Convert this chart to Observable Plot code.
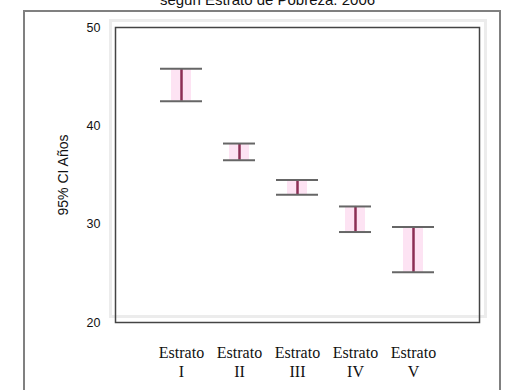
<!DOCTYPE html>
<html>
<head>
<meta charset="utf-8">
<script src="https://cdn.jsdelivr.net/npm/d3@7"></script>
<script src="https://cdn.jsdelivr.net/npm/@observablehq/plot@0.6"></script>
<style>
  html, body { margin: 0; padding: 0; background: #fff; }
  #wrap { position: relative; width: 509px; height: 390px; overflow: hidden; }
  #outer { position: absolute; left: 23px; top: 10px; width: 478px; height: 400px; border: 2px solid #808080; box-sizing: border-box; }
  #title { position: absolute; left: 0; width: 535px; top: -9px; text-align: center; font: 15px "Liberation Sans", Arial, sans-serif; color: #111; }
  #chart { position: absolute; left: 0; top: 0; }
</style>
</head>
<body>
<div id="wrap">
  <div id="outer"></div>
  <div id="title">según Estrato de Pobreza. 2006</div>
  <div id="chart"></div>
</div>
<script>
const categories = ["I", "II", "III", "IV", "V"];
const upper = [45.8, 38.2, 34.5, 31.8, 29.7];
const lower = [42.5, 36.5, 33.0, 29.2, 25.1];
const yTicks = [20, 30, 40, 50];

const data = categories.map((c, i) => ({ cat: c, hi: upper[i], lo: lower[i] }));
const wide = data.filter((d, i) => i % 2 === 0);
const narrow = data.filter((d, i) => i % 2 === 1);

const chart = Plot.plot({
  width: 509,
  height: 390,
  marginLeft: 115,
  marginRight: 30,
  marginTop: 27,
  marginBottom: 68,
  style: { background: "transparent", overflow: "visible" },
  x: { type: "band", domain: categories, paddingInner: 0.28, paddingOuter: 0.75 },
  y: { domain: [20, 50] },
  marks: [
    Plot.frame({ stroke: "#ececec", strokeWidth: 3, insetLeft: -5, insetRight: -6, insetTop: -7, insetBottom: 6 }),
    Plot.barY(data, { x: "cat", y1: "lo", y2: "hi", fill: "#fde3f3", insetLeft: 11, insetRight: 11 }),
    Plot.ruleX(data, { x: "cat", y1: "lo", y2: "hi", stroke: "#8b2f55", strokeWidth: 2.5 }),
    Plot.tickY(wide, { x: "cat", y: "hi", stroke: "#666", strokeWidth: 2 }),
    Plot.tickY(wide, { x: "cat", y: "lo", stroke: "#666", strokeWidth: 2 }),
    Plot.tickY(narrow, { x: "cat", y: "hi", stroke: "#666", strokeWidth: 2, insetLeft: 5, insetRight: 5 }),
    Plot.tickY(narrow, { x: "cat", y: "lo", stroke: "#666", strokeWidth: 2, insetLeft: 5, insetRight: 5 }),
    Plot.frame({ stroke: "#444", strokeWidth: 1.5 }),
    Plot.axisY({
      ticks: yTicks, tickSize: 0, tickPadding: 15,
      fontSize: 12.5, fontFamily: "Liberation Sans, Arial, sans-serif",
      label: null
    }),
    Plot.text(["95% CI Años"], {
      frameAnchor: "left", textAnchor: "middle", dx: -52, rotate: -90,
      fontSize: 14, fontFamily: "Liberation Sans, Arial, sans-serif", fill: "#111"
    }),
    Plot.axisX({
      tickSize: 0, tickPadding: 22,
      tickFormat: d => "Estrato\n" + d,
      fontSize: 16, fontFamily: "Liberation Serif, serif",
      lineHeight: 1.2, label: null
    })
  ]
});
chart.style.fontFamily = "Liberation Sans, Arial, sans-serif";
chart.style.color = "#111";
document.getElementById("chart").appendChild(chart);
</script>
</body>
</html>
